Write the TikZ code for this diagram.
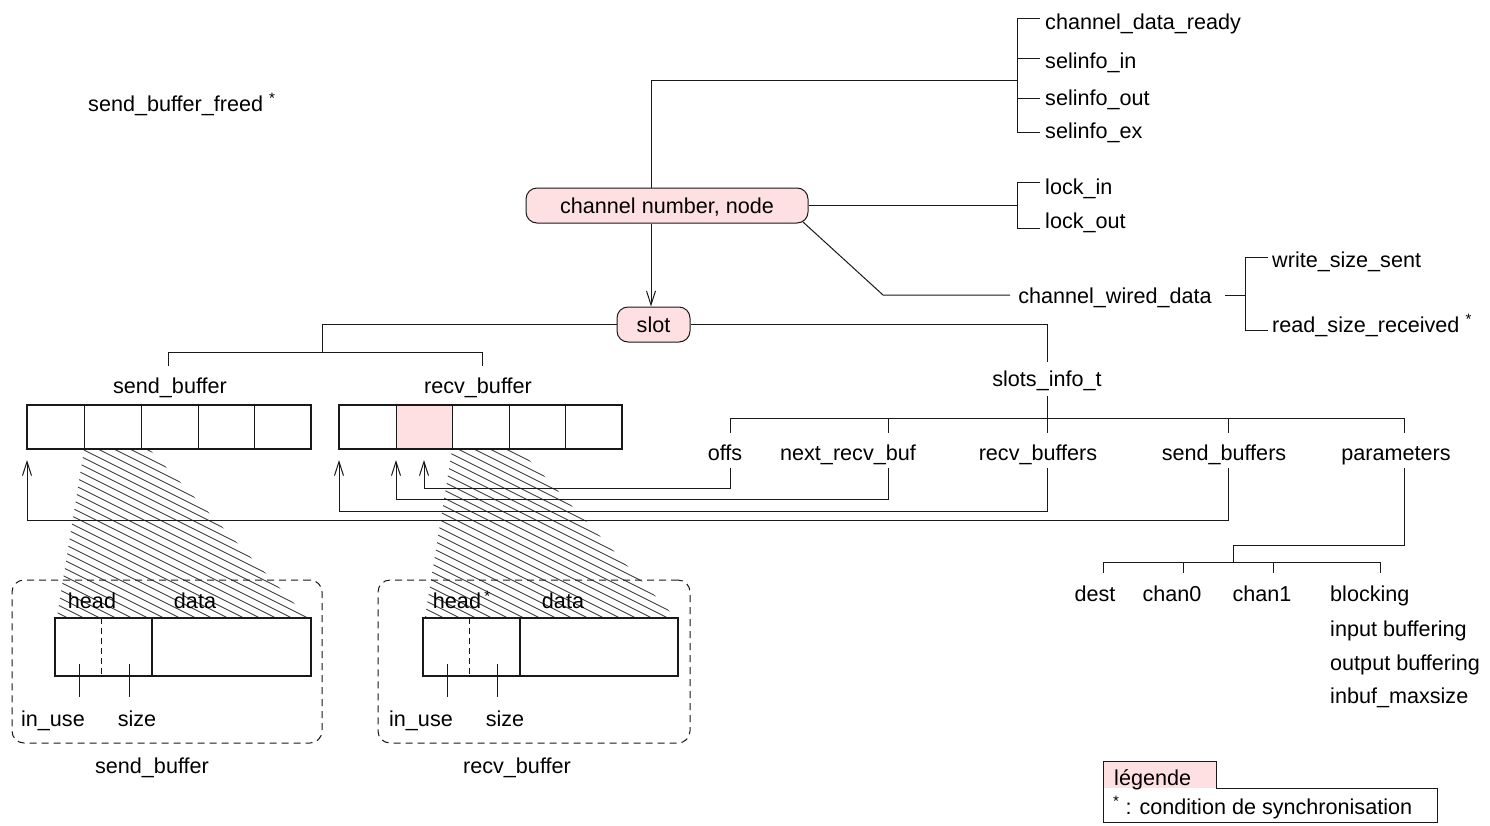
\documentclass[tikz,border=0pt]{standalone}
\usepackage{fontspec}
\setmainfont{Liberation Sans}
\usetikzlibrary{arrows.meta}
\definecolor{pinkfill}{RGB}{255,224,226}
\definecolor{ln}{RGB}{25,25,25}
\newcommand{\figfont}{\fontsize{21.6}{26}\selectfont}
\begin{document}
\begin{tikzpicture}[x=1pt,y=-1pt,
  txt/.style={inner sep=0pt, font=\figfont, text height=16pt, text depth=0pt},
  lab/.style={txt, anchor=west},
  conn/.style={line width=1pt, draw=ln},
  arr/.style={conn, -{Straight Barb[length=14pt,width=9pt,line width=1pt]}},
  rnode/.style={txt, draw=ln, fill=pinkfill, rounded corners=11pt, line width=1pt},
  bufbox/.style={draw=ln, line width=2pt},
  cellline/.style={line width=1pt, draw=ln},
  hatch/.style={line width=0.9pt, draw=black!75},
  dbox/.style={draw=ln, dash pattern=on 7pt off 5pt, rounded corners=12pt, line width=1pt},
  membox/.style={draw=ln, line width=1.6pt},
  ddiv/.style={draw=ln, line width=1pt, dash pattern=on 6pt off 4pt},
]
\useasboundingbox (0,0) rectangle (1490,825);
\fill[white] (0,0) rectangle (1490,825);

% ---------- hatching ----------
\begin{scope}
  \clip (84,450) -- (150,450) -- (307,617) -- (57,617) -- cycle;
  \foreach \k in {0,...,42} \draw[hatch] (0,{280+8*\k}) -- ++(420,210);
\end{scope}
\begin{scope}
  \clip (452,450) -- (520,450) -- (675,617) -- (425,617) -- cycle;
  \foreach \k in {0,...,42} \draw[hatch] (0,{100+8*\k}) -- ++(800,400);
\end{scope}

% ---------- top-left ----------
\node[lab] (sbf) at (88,103) {send\_buffer\_freed \textsuperscript{*}};

% ---------- central nodes ----------
\node[rnode, minimum width=282pt, minimum height=35pt] (chan) at (667,205.5) {channel number, node};
\node[rnode, minimum width=73pt, minimum height=35pt] (slot) at (653.5,324.5) {slot};
\coordinate (cx) at (651,0);

% ---------- top-right tree ----------
\node[lab] (cdr) at (1045,21) {channel\_data\_ready};
\node[lab] (sin) at (1045,60) {selinfo\_in};
\node[lab] (sout) at (1045,97) {selinfo\_out};
\node[lab] (sex) at (1045,130) {selinfo\_ex};
\coordinate (trj) at (1017,80);
\draw[conn] (chan.north -| cx) |- (trj);
\draw[conn] (1040,18) -- (1017,18) -- (1017,132) -- (1040,132);
\draw[conn] (1017,58) -- (1040,58);
\draw[conn] (1017,98) -- (1040,98);

\node[lab] (lin) at (1045,186) {lock\_in};
\node[lab] (lout) at (1045,220) {lock\_out};
\coordinate (lj) at (1017,205);
\draw[conn] (chan.east |- lj) -- (lj);
\draw[conn] (1040,182) -- (1017,182) -- (1017,228) -- (1040,228);

\node[txt] (cwd) at (1115,295) {channel\_wired\_data};
\draw[conn] (803,222) -- (883,295) -- (1010,295);
\draw[conn] (1225,295) -- (1245,295);
\node[lab] (wss) at (1272,259) {write\_size\_sent};
\node[lab] (rsr) at (1272,324) {read\_size\_received \textsuperscript{*}};
\draw[conn] (1268,257) -- (1245,257) -- (1245,330) -- (1268,330);

% ---------- chan -> slot ----------
\draw[arr] (chan.south -| cx) -- (slot.north -| cx);

% ---------- slot left ----------
\draw[conn] (slot.west) -- (322,324.5) -- (322,352);
\draw[conn] (168,366) -- (168,352) -- (482,352) -- (482,366);
\node[txt] (sbl) at (170,385) {send\_buffer};
\node[txt] (rbl) at (478,385) {recv\_buffer};

% ---------- buffers ----------
\fill[pinkfill] (396,405) rectangle (452,449);
\foreach \x in {84,141,198,254} \draw[cellline] (\x,405) -- (\x,449);
\foreach \x in {396,452,509,565} \draw[cellline] (\x,405) -- (\x,449);
\node[bufbox, minimum width=284pt, minimum height=44pt, inner sep=0pt] (sbuf) at (169,427) {};
\node[bufbox, minimum width=283pt, minimum height=44pt, inner sep=0pt] (rbuf) at (480.5,427) {};

% ---------- slot right ----------
\node[txt] (sit) at (1047,378) {slots\_info\_t};
\draw[conn] (slot.east) -| (1047,362);
\draw[conn] (1047,396) -- (1047,418);
\draw[conn] (730,433) -- (730,418) -- (1404,418) -- (1404,433);
\foreach \x in {888,1047,1228} \draw[conn] (\x,418) -- (\x,433);
\node[txt] (offs) at (725,452) {offs};
\node[txt] (nrb) at (848,452) {next\_recv\_buf};
\node[txt] (rbs) at (1038,452) {recv\_buffers};
\node[txt] (sbs) at (1224,452) {send\_buffers};
\node[txt] (par) at (1396,452) {parameters};

% pointers
\draw[arr] (730,468) -- (730,488) -- (424,488) -- (424,460);
\draw[arr] (888,468) -- (888,499) -- (396,499) -- (396,460);
\draw[arr] (1047,468) -- (1047,511) -- (339,511) -- (339,460);
\draw[arr] (1228,468) -- (1228,520) -- (27,520) -- (27,460);

% parameters subtree
\draw[conn] (1404,468) -- (1404,545) -- (1233,545) -- (1233,562);
\draw[conn] (1103,573) -- (1103,562) -- (1380,562) -- (1380,573);
\foreach \x in {1183,1273} \draw[conn] (\x,562) -- (\x,573);
\node[txt] (dest) at (1095,593) {dest};
\node[txt] (ch0) at (1172,593) {chan0};
\node[txt] (ch1) at (1262,593) {chan1};
\node[lab] (blk) at (1330,593) {blocking};
\node[lab] (ibf) at (1330,628) {input buffering};
\node[lab] (obf) at (1330,662) {output buffering};
\node[lab] (ims) at (1330,695) {inbuf\_maxsize};

% ---------- lower send_buffer ----------
\node[dbox, minimum width=310pt, minimum height=163pt, inner sep=0pt] (sbd) at (167,661.5) {};
\draw[ddiv] (101,618) -- (101,676);
\draw[membox] (152,618) -- (152,676);
\draw[membox] (55,618) rectangle (311,676);
\draw[conn] (79,664) -- (79,697);
\draw[conn] (129,664) -- (129,697);
\node[txt] (sh) at (92,600) {head};
\node[txt] (sd) at (195,600) {data};
\node[txt] (siu) at (53,718) {in\_use};
\node[txt] (ssz) at (137,718) {size};
\node[txt] (sbt) at (152,765) {send\_buffer};

% ---------- lower recv_buffer ----------
\node[dbox, minimum width=312pt, minimum height=163pt, inner sep=0pt] (rbd) at (534,661.5) {};
\draw[ddiv] (469,618) -- (469,676);
\draw[membox] (520,618) -- (520,676);
\draw[membox] (423,618) rectangle (678,676);
\draw[conn] (447,664) -- (447,697);
\draw[conn] (497,664) -- (497,697);
\node[txt] (rh) at (457,600) {head};
\node[inner sep=0pt, font=\figfont, anchor=west] (rhs) at ([xshift=3pt]rh.east) {\textsuperscript{*}};
\node[txt] (rd) at (563,600) {data};
\node[txt] (riu) at (421,718) {in\_use};
\node[txt] (rsz) at (505,718) {size};
\node[txt] (rbt) at (517,765) {recv\_buffer};

% ---------- legend ----------
\fill[pinkfill] (1103,761) rectangle (1216,788);
\draw[conn] (1103,822) -- (1103,761) -- (1216,761) -- (1216,788) -- (1437,788) -- (1437,822) -- cycle;
\node[lab] (leg) at (1114,777) {légende};
\node[lab] (legt) at (1113,806) {\textsuperscript{*} : condition de synchronisation};
\end{tikzpicture}
\end{document}
